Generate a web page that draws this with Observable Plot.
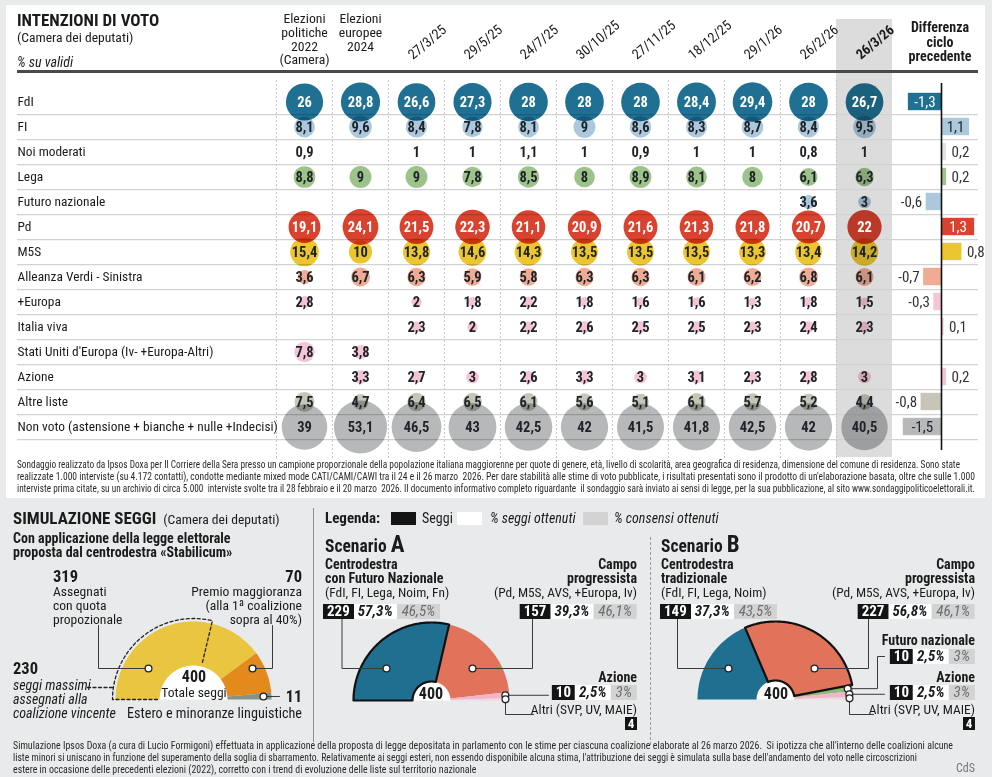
<!DOCTYPE html>
<html><head><meta charset="utf-8">
<script src="https://cdn.jsdelivr.net/npm/d3@7"></script>
<script src="https://cdn.jsdelivr.net/npm/@observablehq/plot@0.6"></script>
<style>
html,body{margin:0;padding:0;background:#e9eaeb;}
#root{position:relative;width:992px;height:777px;overflow:hidden;background:#e9eaeb;font-family:"Roboto Condensed",Lato,sans-serif;color:#1b1b1b;}
.a{position:absolute;white-space:nowrap;line-height:1;}
.bx{position:absolute;display:flex;height:15px;line-height:15px;font-size:15px;white-space:nowrap}
.bx .k{background:#141414;color:#fff;font-weight:700;padding:0 4px}
.bx .w{background:#fff;font-style:italic;font-weight:700;padding:0 4px;color:#1b1b1b}
.bx .g{background:#d3d3d3;color:#6e6e6e;font-style:italic;padding:0 5px}
</style></head>
<body><div id="root"></div>
<script>
// ================= DATA =================
const columns = ["Elezioni\npolitiche\n2022\n(Camera)","Elezioni\neuropee\n2024","27/3/25","29/5/25","24/7/25","30/10/25","27/11/25","18/12/25","29/1/26","26/2/26","26/3/26"];
const parties = ["FdI","FI","Noi moderati","Lega","Futuro nazionale","Pd","M5S","Alleanza Verdi - Sinistra","+Europa","Italia viva","Stati Uniti d'Europa (Iv- +Europa-Altri)","Azione","Altre liste","Non voto (astensione + bianche + nulle +Indecisi)"];
const vFdI   = [26, 28.8, 26.6, 27.3, 28, 28, 28, 28.4, 29.4, 28, 26.7];
const vFI    = [8.1, 9.6, 8.4, 7.8, 8.1, 9, 8.6, 8.3, 8.7, 8.4, 9.5];
const vNoiM  = [0.9, null, 1, 1, 1.1, 1, 0.9, 1, 1, 0.8, 1];
const vLega  = [8.8, 9, 9, 7.8, 8.5, 8, 8.9, 8.1, 8, 6.1, 6.3];
const vFutN  = [null, null, null, null, null, null, null, null, null, 3.6, 3];
const vPd    = [19.1, 24.1, 21.5, 22.3, 21.1, 20.9, 21.6, 21.3, 21.8, 20.7, 22];
const vM5S   = [15.4, 10, 13.8, 14.6, 14.3, 13.5, 13.5, 13.5, 13.3, 13.4, 14.2];
const vAVS   = [3.6, 6.7, 6.3, 5.9, 5.8, 6.3, 6.3, 6.1, 6.2, 6.8, 6.1];
const vPiuEu = [2.8, null, 2, 1.8, 2.2, 1.8, 1.6, 1.6, 1.3, 1.8, 1.5];
const vIV    = [null, null, 2.3, 2, 2.2, 2.6, 2.5, 2.5, 2.3, 2.4, 2.3];
const vSUE   = [7.8, 3.8, null, null, null, null, null, null, null, null, null];
const vAz    = [null, 3.3, 2.7, 3, 2.6, 3.3, 3, 3.1, 2.3, 2.8, 3];
const vAltre = [7.5, 4.7, 6.4, 6.5, 6.1, 5.6, 5.1, 6.1, 5.7, 5.2, 4.4];
const vNonV  = [39, 53.1, 46.5, 43, 42.5, 42, 41.5, 41.8, 42.5, 42, 40.5];
const seriesValues = [vFdI, vFI, vNoiM, vLega, vFutN, vPd, vM5S, vAVS, vPiuEu, vIV, vSUE, vAz, vAltre, vNonV];
const diffPrev = [-1.3, 1.1, 0.2, 0.2, -0.6, 1.3, 0.8, -0.7, -0.3, 0.1, null, 0.2, -0.8, -1.5];

const seatTotal = 400;
const seatPartNames = ["Assegnati con quota propozionale", "Premio maggioranza", "Estero e minoranze linguistiche"];
const seatPartCounts = [319, 70, 11];
const seatMaxWinner = 230;

const scenANames = ["Centrodestra con Futuro Nazionale", "Campo progressista", "Azione", "Altri (SVP, UV, MAIE)"];
const scenASeats = [229, 157, 10, 4];
const scenAPctSeats = [57.3, 39.3, 2.5, null];
const scenAPctVotes = [46.5, 46.1, 3, null];

const scenBNames = ["Centrodestra tradizionale", "Campo progressista", "Futuro nazionale", "Azione", "Altri (SVP, UV, MAIE)"];
const scenBSeats = [149, 227, 10, 10, 4];
const scenBPctSeats = [37.3, 56.8, 2.5, 2.5, null];
const scenBPctVotes = [43.5, 46.1, 3, 3, null];

// ================= STYLE =================
const FONT = '"Roboto Condensed",Lato,sans-serif';
const partyFill = ["#1f7092","#abc8dd",null,"#9dc28a","#abc8dd","#d9422e","#ecc630","#efab93","#f5c4d7","#f5c4d7","#f5c4d7","#f5c4d7","#c6c5b7","#b6b8ba"];
const partyInk  = ["#ffffff","#1e2328","#1e2328","#1e2328","#1e2328","#ffffff","#1e2328","#1e2328","#1e2328","#1e2328","#1e2328","#1e2328","#1e2328","#1e2328"];
const diffFill  = ["#1f7092","#abc8dd","#e2e2e2","#9dc28a","#abc8dd","#d9422e","#ecc630","#efab93","#f5c4d7","#f5c4d7",null,"#f5c4d7","#c6c5b7","#b6b8ba"];

const fmt = v => String(v).replace(".", ",");
const fmtS = v => (v < 0 ? "-" : "") + fmt(Math.abs(v));
const pct = v => fmt(v) + "%";

const root = document.getElementById("root");
function el(tag, cls, css, html) { const d = document.createElement(tag); if (cls) d.className = cls; if (css) d.style.cssText = css; if (html != null) d.innerHTML = html; root.appendChild(d); return d; }
function txt(html, x, y, o = {}) {
  const {size = 14, weight = 400, italic = false, anchor = "start", color = "#1b1b1b", ls = 0} = o;
  const tx = anchor === "end" ? "-100%" : anchor === "middle" ? "-50%" : "0";
  return el("div", "a", `left:${x}px;top:${y}px;font-size:${size}px;font-weight:${weight};font-style:${italic ? "italic" : "normal"};color:${color};letter-spacing:${ls}px;transform:translate(${tx},-50%)`, html);
}
function place(node, left, top) { const d = el("div", "", `position:absolute;left:${left}px;top:${top}px;`); d.appendChild(node); return d; }
function boxes(seats, ps, pv, x, y, anchor) {
  return el("div", "bx", `left:${x}px;top:${y - 7.5}px;transform:translateX(${anchor === "end" ? "-100%" : "0"})`,
    `<span class="k">${seats}</span>` + (ps != null ? `<span class="w">${pct(ps)}</span>` : "") + (pv != null ? `<span class="g">${pct(pv)}</span>` : ""));
}
function fitLine(html, x, y, size, target, scale) {
  const d = txt(html, x, y, {size, color: "#2a2a2a"});
  d.style.transformOrigin = "0 50%";
  const w = d.getBoundingClientRect().width;
  const s = scale || (target / w);
  d.style.transform = `translate(0,-50%) scaleX(${s})`;
  return s;
}

// ================= TOP PANEL =================
el("div", "", "position:absolute;left:6px;top:5px;width:979px;height:493px;background:#fff;");

const cells = [];
parties.forEach((p, i) => seriesValues[i].forEach((v, j) => { if (v != null) cells.push({party: p, col: columns[j], v, fill: partyFill[i], ink: partyInk[i]}); }));
const bandW = (892 - 275) / columns.length;

const bubble = Plot.plot({
  width: 992, height: 500,
  marginLeft: 275, marginRight: 100, marginTop: 87, marginBottom: 59,
  style: {background: "transparent", overflow: "visible", fontFamily: FONT},
  x: {type: "band", domain: columns, padding: 0, axis: null},
  y: {type: "band", domain: parties, padding: 0, axis: null},
  r: {type: "sqrt", domain: [0, 53.1], range: [0, 3.65 * Math.sqrt(53.1)]},
  color: {type: "identity"},
  marks: [
    Plot.cell([columns[columns.length - 1]], {x: d => d, fill: "#dcdcdc", insetTop: -68, insetBottom: -16}),
    Plot.ruleX(columns, {x: d => d, dx: -bandW / 2, stroke: "#c4c4c4", strokeDasharray: "2,2", insetTop: -7, insetBottom: -19}),
    Plot.ruleY(parties, {y: d => d, dy: 12.65, stroke: "#d2d2d2", strokeWidth: 1.2, insetLeft: -258, insetRight: -86}),
    Plot.dot(cells.filter(d => d.fill), {x: "col", y: "party", r: "v", fill: "fill", mixBlendMode: "multiply"}),
    Plot.text(cells, {x: "col", y: "party", text: d => fmt(d.v), fill: "ink", fontSize: 14.5, fontWeight: 700}),
    Plot.text(parties, {y: d => d, frameAnchor: "left", textAnchor: "start", dx: -258, fontSize: 13.4, fill: "#1b1b1b"}),
    Plot.text(columns.slice(0, 2), {x: d => d, frameAnchor: "top", lineAnchor: "top", dy: -74, lineHeight: 1, fontSize: 13.7, fill: "#1b1b1b"}),
    Plot.text(columns.slice(2, 10), {x: d => d, frameAnchor: "top", dy: -35, dx: -10, rotate: -40, textAnchor: "start", fontSize: 14, fill: "#1b1b1b"}),
    Plot.text(columns.slice(10), {x: d => d, frameAnchor: "top", dy: -35, dx: -10, rotate: -40, textAnchor: "start", fontSize: 14, fontWeight: 700, fill: "#1b1b1b"})
  ]
});
place(bubble, 0, 0);

const diffRows = parties.map((p, i) => ({party: p, v: diffPrev[i], fill: diffFill[i], ink: partyInk[i]})).filter(d => d.v != null);
const diffPlot = Plot.plot({
  width: 92, height: 500, marginLeft: 0, marginRight: 0, marginTop: 87, marginBottom: 59,
  style: {background: "transparent", overflow: "visible", fontFamily: FONT},
  x: {domain: [-48 / 25.5, 44 / 25.5], axis: null},
  y: {type: "band", domain: parties, padding: 0, axis: null},
  color: {type: "identity"},
  marks: [
    Plot.barX(diffRows, {x1: 0, x2: "v", y: "party", fill: "fill", insetTop: 3.8, insetBottom: 3.8}),
    Plot.ruleX([0], {stroke: "#111", strokeWidth: 1.6, insetTop: -4, insetBottom: -9}),
    Plot.text(diffRows.filter(d => Math.abs(d.v) >= 1), {x: d => d.v / 2, y: "party", text: d => fmtS(d.v), fill: "ink", fontSize: 15}),
    Plot.text(diffRows.filter(d => Math.abs(d.v) < 1 && d.v < 0), {x: "v", y: "party", text: d => fmtS(d.v), textAnchor: "end", dx: -4, fontSize: 15, fill: "#333"}),
    Plot.text(diffRows.filter(d => Math.abs(d.v) < 1 && d.v > 0), {x: "v", y: "party", text: d => fmtS(d.v), textAnchor: "start", dx: 5, fontSize: 15, fill: "#333"})
  ]
});
place(diffPlot, 893, 0);

// top texts
txt("INTENZIONI DI VOTO", 17, 20, {size: 17, weight: 700});
txt("(Camera dei deputati)", 17, 38, {size: 13.6});
txt("% su validi", 17, 62, {size: 14, italic: true});
el("div", "", "position:absolute;left:17px;top:70px;width:961px;height:2.5px;background:#4a4a4a;");
el("div", "a", "left:940px;top:20px;transform:translateX(-50%);text-align:center;font-weight:700;font-size:14px;line-height:14.5px", "Differenza<br>ciclo<br>precedente");

fitLine("Sondaggio realizzato da Ipsos Doxa per Il Corriere della Sera presso un campione proporzionale della popolazione italiana maggiorenne per quote di genere, età, livello di scolarità, area geografica di residenza, dimensione del comune di residenza. Sono state", 17, 465, 10.5, 943);
fitLine("realizzate 1.000 interviste (su 4.172 contatti), condotte mediante mixed mode CATI/CAMI/CAWI tra il 24 e il 26 marzo&nbsp; 2026. Per dare stabilità alle stime di voto pubblicate, i risultati presentati sono il prodotto di un'elaborazione basata, oltre che sulle 1.000", 17, 477, 10.5, 958);
fitLine("interviste prima citate, su un archivio di circa 5.000&nbsp; interviste svolte tra il 28 febbraio e il 20 marzo&nbsp; 2026. Il documento informativo completo riguardante&nbsp; il sondaggio sarà inviato ai sensi di legge, per la sua pubblicazione, al sito www.sondaggipoliticoelettorali.it.", 17, 489, 10.5, 958);

// ================= HEMICYCLES =================
function wedgePoints(names, seats, total, rIn, rOut) {
  const pts = []; let cum = 0;
  names.forEach((name, i) => {
    const a0 = Math.PI * (1 - cum / total), a1 = Math.PI * (1 - (cum + seats[i]) / total);
    const n = Math.max(2, Math.ceil(Math.abs(a0 - a1) / 0.015));
    const start = pts.length;
    for (let k = 0; k <= n; k++) { const a = a0 + (a1 - a0) * k / n; pts.push({seg: name, x: rOut * Math.cos(a), y: rOut * Math.sin(a)}); }
    for (let k = n; k >= 0; k--) { const a = a0 + (a1 - a0) * k / n; pts.push({seg: name, x: rIn * Math.cos(a), y: rIn * Math.sin(a)}); }
    pts.push({...pts[start]});
    cum += seats[i];
  });
  return pts;
}
function midPoint(seats, idx, total, r) {
  const before = d3.sum(seats.slice(0, idx));
  const a = Math.PI * (1 - (before + seats[idx] / 2) / total);
  return {x: r * Math.cos(a), y: r * Math.sin(a)};
}
function arcPoint(seatsFromLeft, total, r) { const a = Math.PI * (1 - seatsFromLeft / total); return [r * Math.cos(a), r * Math.sin(a)]; }

function hemicycle({left, top, w, h, cx, cy, rIn, rOut, names, seats, total, colors, outline, callouts, extra = []}) {
  const colorOf = Object.fromEntries(names.map((n, i) => [n, colors[i]]));
  const pts = wedgePoints(names, seats, total, rIn, rOut);
  const hole = wedgePoints(["hole"], [total], total, 0, rIn);
  const dots = callouts.map(c => c.dot);
  const lines = callouts.flatMap((c, i) => [[c.dot.x, c.dot.y], ...c.path].map(p => ({id: i, x: p[0], y: p[1]})));
  const marks = [
    Plot.line(hole, {x: "x", y: "y", z: "seg", fill: "#ffffff", stroke: "none"}),
    Plot.line(pts, {x: "x", y: "y", z: "seg", fill: d => colorOf[d.seg], stroke: "none"})
  ];
  if (outline) marks.push(Plot.line(pts.filter(d => d.seg === outline), {x: "x", y: "y", stroke: "#111", strokeWidth: 2.2, strokeLinejoin: "round"}));
  marks.push(...extra);
  marks.push(Plot.line(lines, {x: "x", y: "y", z: "id", stroke: "#3a3a3a", strokeWidth: 1}));
  marks.push(Plot.dot(dots, {x: "x", y: "y", r: 3.4, fill: "#fff", stroke: "#222", strokeWidth: 1.3}));
  const svg = Plot.plot({
    width: w, height: h, margin: 0,
    x: {domain: [-cx, w - cx], axis: null}, y: {domain: [cy - h, cy], axis: null},
    color: {type: "identity"},
    style: {background: "transparent", overflow: "visible"},
    marks
  });
  place(svg, left, top);
}

// --- left: seat allocation
{
  const rIn = 34, rOut = 78, rDash = 81;
  const arc = d3.range(0, 61).map(k => arcPoint(seatMaxWinner * k / 60, seatTotal, rDash));
  const radial = [arcPoint(seatMaxWinner, seatTotal, rDash), arcPoint(seatMaxWinner, seatTotal, rIn + 3)];
  const dashed = [[-rIn - 2, 0], [-rDash, 0], ...arc, radial[1]].map(p => ({x: p[0], y: p[1]}));
  const conn = [{x: -106, y: 12}, {x: -rDash, y: 12}];
  hemicycle({
    left: 0, top: 505, w: 312, h: 240, cx: 193, cy: 194, rIn, rOut,
    names: seatPartNames, seats: seatPartCounts, total: seatTotal,
    colors: ["#eac53f", "#e4891b", "#839588"],
    callouts: [
      {dot: {x: -45, y: 31}, path: [[-95, 31], [-95, 74]]},
      {dot: {x: 59, y: 31}, path: [[79, 31], [79, 74]]},
      {dot: midPoint(seatPartCounts, 2, seatTotal, rOut - 8), path: [[86, midPoint(seatPartCounts, 2, seatTotal, rOut - 8).y]]}
    ],
    extra: [
      Plot.line(dashed, {x: "x", y: "y", stroke: "#222", strokeWidth: 1.3, strokeDasharray: "3,2.5"}),
      Plot.line(conn, {x: "x", y: "y", stroke: "#222", strokeWidth: 1.3, strokeDasharray: "3,2.5"})
    ]
  });
}
// --- scenario A
{
  const rOut = 78, rIn = 19;
  const dAz = midPoint(scenASeats, 2, seatTotal, rOut - 4), dAl = midPoint(scenASeats, 3, seatTotal, rOut - 4);
  hemicycle({
    left: 314, top: 505, w: 336, h: 240, cx: 117, cy: 195, rIn, rOut,
    names: scenANames, seats: scenASeats, total: seatTotal,
    colors: ["#1f6f91", "#e0735a", "#f0b5c9", "#f6d5e1"],
    outline: scenANames[0],
    callouts: [
      {dot: {x: -45, y: 32}, path: [[-89.5, 32], [-89.5, 82]]},
      {dot: {x: 41, y: 32}, path: [[101, 32], [101, 82]]},
      {dot: dAz, path: [[117, dAz.y]]},
      {dot: dAl, path: [[dAl.x, -14], [102, -14]]}
    ]
  });
}
// --- scenario B
{
  const rOut = 78, rIn = 19;
  const dFn = midPoint(scenBSeats, 2, seatTotal, rOut - 5), dAz = midPoint(scenBSeats, 3, seatTotal, rOut - 4), dAl = midPoint(scenBSeats, 4, seatTotal, rOut - 4);
  hemicycle({
    left: 651, top: 505, w: 335, h: 240, cx: 124, cy: 194, rIn, rOut,
    names: scenBNames, seats: scenBSeats, total: seatTotal,
    colors: ["#1f6f91", "#e0735a", "#8cbd78", "#f0b5c9", "#f6d5e1"],
    outline: scenBNames[1],
    callouts: [
      {dot: {x: -47, y: 31}, path: [[-98, 31], [-98, 81]]},
      {dot: {x: 39, y: 31}, path: [[93, 31], [93, 81]]},
      {dot: dFn, path: [[102, dFn.y], [102, 43], [109, 43]]},
      {dot: dAz, path: [[109, dAz.y]]},
      {dot: dAl, path: [[dAl.x, -15], [98, -15]]}
    ]
  });
}

// ---- bottom texts: left
txt('SIMULAZIONE SEGGI <span style="font-weight:400;font-size:13.6px;margin-left:3px">(Camera dei deputati)</span>', 13, 518, {size: 17, weight: 700});
txt("Con applicazione della legge elettorale", 13, 538, {size: 14, weight: 700});
txt("proposta dal centrodestra «Stabilicum»", 13, 552, {size: 14, weight: 700});
txt(String(seatPartCounts[0]), 53, 577, {size: 16.5, weight: 700});
txt("Assegnati", 53, 592, {size: 13.6}); txt("con quota", 53, 606, {size: 13.6}); txt("propozionale", 53, 620, {size: 13.6});
txt(String(seatPartCounts[1]), 302, 577, {size: 16.5, weight: 700, anchor: "end"});
txt("Premio maggioranza", 302, 592, {size: 13.6, anchor: "end"});
txt("(alla 1ª coalizione", 302, 606, {size: 13.6, anchor: "end"});
txt("sopra al 40%)", 302, 620, {size: 13.6, anchor: "end"});
txt(String(seatMaxWinner), 13, 669, {size: 16.5, weight: 700});
txt("seggi massimi", 13, 685, {size: 14, italic: true});
txt("assegnati alla", 13, 699, {size: 14, italic: true});
txt("coalizione vincente", 13, 713, {size: 14, italic: true});
txt(String(seatTotal), 194, 677, {size: 16, weight: 700, anchor: "middle"});
txt("Totale seggi", 194, 693, {size: 13.6, anchor: "middle"});
txt(String(seatPartCounts[2]), 302, 697, {size: 16, weight: 700, anchor: "end"});
txt("Estero e minoranze linguistiche", 302, 713, {size: 14.2, anchor: "end"});

el("div", "", "position:absolute;left:313px;top:508px;width:1px;height:234px;background:#8e8e8e;");
el("div", "", "position:absolute;left:650px;top:537px;width:0;height:208px;border-left:1.3px dashed #9a9a9a;");

// legend
txt("Legenda:", 325, 518, {size: 15, weight: 700});
el("div", "", "position:absolute;left:391px;top:512px;width:25px;height:13px;background:#141414;");
txt("Seggi", 422, 518, {size: 14});
el("div", "", "position:absolute;left:457px;top:512px;width:25px;height:13px;background:#fff;");
txt("% seggi ottenuti", 490, 518, {size: 14, italic: true});
el("div", "", "position:absolute;left:583px;top:512px;width:25px;height:13px;background:#d3d3d3;");
txt("% consensi ottenuti", 614, 518, {size: 14, italic: true});

// scenario A texts
txt('Scenario <span style="font-size:23px">A</span>', 325, 544, {size: 17.5, weight: 700});
txt("Centrodestra", 325, 564, {size: 14, weight: 700});
txt("con Futuro Nazionale", 325, 578, {size: 14, weight: 700});
txt("(FdI, FI, Lega, Noim, Fn)", 325, 593, {size: 13.4});
boxes(scenASeats[0], scenAPctSeats[0], scenAPctVotes[0], 323, 611, "start");
txt("Campo", 637, 564, {size: 14, weight: 700, anchor: "end"});
txt("progressista", 637, 578, {size: 14, weight: 700, anchor: "end"});
txt("(Pd, M5S, AVS, +Europa, Iv)", 637, 593, {size: 13.4, anchor: "end"});
boxes(scenASeats[1], scenAPctSeats[1], scenAPctVotes[1], 637, 611, "end");
txt("Azione", 637, 677, {size: 14, weight: 700, anchor: "end"});
boxes(scenASeats[2], scenAPctSeats[2], scenAPctVotes[2], 637, 692, "end");
txt("Altri (SVP, UV, MAIE)", 637, 710, {size: 13.4, anchor: "end"});
el("div", "", "position:absolute;left:625px;top:717px;width:12px;height:13px;background:#141414;color:#fff;font-weight:700;font-size:13px;line-height:13px;text-align:center;", String(scenASeats[3]));
txt(String(seatTotal), 431, 694, {size: 16, weight: 700, anchor: "middle"});

// scenario B texts
txt('Scenario <span style="font-size:23px">B</span>', 661, 544, {size: 17.5, weight: 700});
txt("Centrodestra", 661, 564, {size: 14, weight: 700});
txt("tradizionale", 661, 578, {size: 14, weight: 700});
txt("(FdI, FI, Lega, Noim)", 661, 593, {size: 13.4});
boxes(scenBSeats[0], scenBPctSeats[0], scenBPctVotes[0], 660, 611, "start");
txt("Campo", 975, 564, {size: 14, weight: 700, anchor: "end"});
txt("progressista", 975, 578, {size: 14, weight: 700, anchor: "end"});
txt("(Pd, M5S, AVS, +Europa, Iv)", 975, 593, {size: 13.4, anchor: "end"});
boxes(scenBSeats[1], scenBPctSeats[1], scenBPctVotes[1], 975, 611, "end");
txt("Futuro nazionale", 975, 640, {size: 14, weight: 700, anchor: "end"});
boxes(scenBSeats[2], scenBPctSeats[2], scenBPctVotes[2], 975, 656, "end");
txt("Azione", 975, 677, {size: 14, weight: 700, anchor: "end"});
boxes(scenBSeats[3], scenBPctSeats[3], scenBPctVotes[3], 975, 692, "end");
txt("Altri (SVP, UV, MAIE)", 975, 710, {size: 13.4, anchor: "end"});
el("div", "", "position:absolute;left:963px;top:717px;width:12px;height:13px;background:#141414;color:#fff;font-weight:700;font-size:13px;line-height:13px;text-align:center;", String(scenBSeats[4]));
txt(String(seatTotal), 776, 694, {size: 16, weight: 700, anchor: "middle"});

// bottom footnote
const s2 = fitLine("Simulazione Ipsos Doxa (a cura di Lucio Formigoni) effettuata in applicazione della proposta di legge depositata in parlamento con le stime per ciascuna coalizione elaborate al 26 marzo 2026.&nbsp; Si ipotizza che all'interno delle coalizioni alcune", 13, 746, 10.5, 940);
fitLine("liste minori si uniscano in funzione del superamento della soglia di sbarramento. Relativamente ai seggi esteri, non essendo disponibile alcuna stima, l'attribuzione dei seggi è simulata sulla base dell'andamento del voto nelle circoscrizioni", 13, 758, 10.5, 904);
fitLine("estere in occasione delle precedenti elezioni (2022), corretto con i trend di evoluzione delle liste sul territorio nazionale", 13, 770, 10.5, null, s2);
txt("CdS", 975, 768, {size: 12, anchor: "end", color: "#777"});
</script>
</body></html>
